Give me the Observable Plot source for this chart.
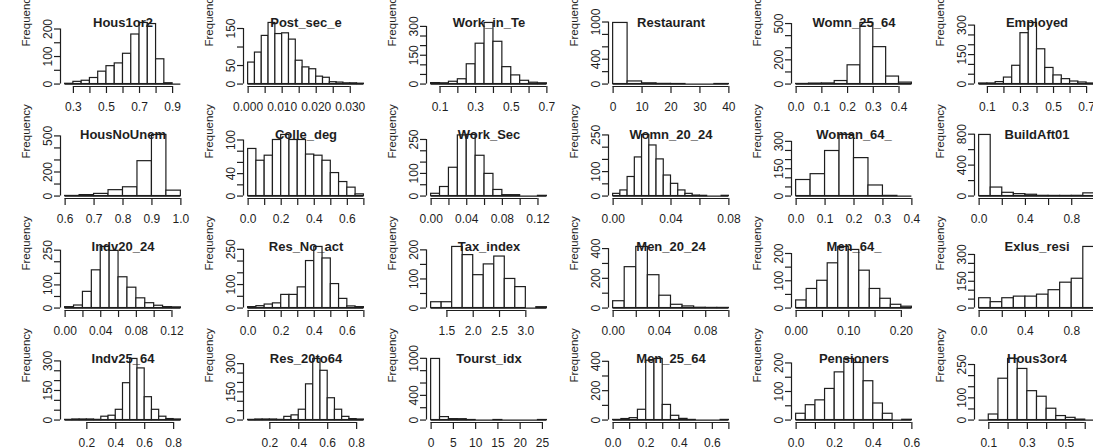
<!DOCTYPE html>
<html><head><meta charset="utf-8">
<script src="https://cdn.jsdelivr.net/npm/d3@7"></script>
<script src="https://cdn.jsdelivr.net/npm/@observablehq/plot@0.6"></script>
<style>
body{margin:0;background:#fff;}
#grid{position:relative;width:1093px;height:448px;overflow:hidden;background:#fff;}
.panel{position:absolute;}
.panel svg{overflow:visible;}
</style></head><body><div id="grid"></div>
<script>
const titles = ["Hous1or2","Post_sec_e","Work_in_Te","Restaurant","Womn_25_64","Employed",
  "HousNoUnem","Colle_deg","Work_Sec","Womn_20_24","Woman_64_","BuildAft01",
  "Indv20_24","Res_No_act","Tax_index","Men_20_24","Men_64_","Exlus_resi",
  "Indv25_64","Res_20to64","Tourst_idx","Men_25_64","Pensioners","Hous3or4"];

const binStarts = [0.25, 0, 0.05, 0, 0, 0.05,
  0.6, 0, 0, 0, 0, 0,
  0, 0, 1.2, 0, 0, 0,
  0.05, 0.05, 0, 0, 0, 0.05];

const binWidths = [0.05, 0.002, 0.05, 5, 0.05, 0.05,
  0.05, 0.05, 0.01, 0.005, 0.05, 0.1,
  0.01, 0.05, 0.2, 0.01, 0.02, 0.1,
  0.05, 0.05, 2, 0.05, 0.05, 0.05];

const counts = [
  [1, 8, 12, 22, 45, 65, 75, 110, 180, 222, 218, 90, 3, 0],
  [58, 85, 130, 165, 135, 137, 120, 63, 45, 40, 20, 17, 5, 4, 2, 2, 1],
  [5, 4, 12, 25, 103, 210, 318, 220, 88, 45, 17, 7, 4],
  [985, 42, 12, 3, 1, 0, 0, 1],
  [1, 4, 5, 25, 155, 505, 305, 62, 12],
  [3, 3, 10, 33, 93, 259, 311, 177, 82, 44, 25, 13, 8, 3],
  [1, 8, 18, 49, 73, 290, 508, 45],
  [84, 63, 72, 100, 109, 100, 100, 74, 72, 63, 41, 25, 15, 3],
  [10, 40, 125, 268, 270, 178, 98, 27, 4, 4, 0, 0, 1],
  [9, 23, 78, 158, 250, 207, 150, 84, 50, 23, 9, 2, 1, 0, 0, 1],
  [88, 120, 247, 335, 208, 58, 1, 0],
  [790, 110, 42, 25, 17, 3, 2, 2, 3, 35],
  [4, 11, 70, 163, 264, 247, 133, 88, 42, 21, 10, 4, 3],
  [4, 8, 15, 20, 56, 56, 88, 200, 260, 211, 102, 39, 7, 4],
  [20, 20, 210, 182, 113, 150, 177, 100, 72, 0, 3],
  [46, 275, 411, 221, 83, 22, 11, 2, 1, 1],
  [28, 70, 100, 164, 224, 213, 137, 70, 34, 12, 5],
  [55, 33, 55, 64, 64, 75, 100, 142, 164, 342],
  [1, 3, 3, 3, 1, 17, 22, 52, 187, 310, 262, 116, 52, 17, 5, 3],
  [1, 3, 3, 3, 1, 17, 25, 55, 190, 325, 262, 116, 55, 17, 5, 3],
  [990, 48, 15, 14, 1, 0, 0, 1, 0, 0, 0, 0, 1],
  [1, 7, 13, 70, 404, 416, 103, 29, 8, 1, 0, 0, 0, 1],
  [22, 52, 69, 109, 167, 214, 200, 136, 58, 22, 0, 1],
  [0, 25, 186, 275, 230, 130, 105, 51, 18, 10, 2, 0]
];

const xTicks = [
  [0.3, 0.4, 0.5, 0.6, 0.7, 0.8, 0.9],
  [0, 0.005, 0.01, 0.015, 0.02, 0.025, 0.03],
  [0.1, 0.2, 0.3, 0.4, 0.5, 0.6, 0.7],
  [0, 10, 20, 30, 40],
  [0, 0.1, 0.2, 0.3, 0.4],
  [0.1, 0.2, 0.3, 0.4, 0.5, 0.6, 0.7],
  [0.6, 0.7, 0.8, 0.9, 1.0],
  [0, 0.1, 0.2, 0.3, 0.4, 0.5, 0.6, 0.7],
  [0, 0.02, 0.04, 0.06, 0.08, 0.1, 0.12],
  [0, 0.02, 0.04, 0.06, 0.08],
  [0, 0.1, 0.2, 0.3, 0.4],
  [0, 0.2, 0.4, 0.6, 0.8, 1.0],
  [0, 0.02, 0.04, 0.06, 0.08, 0.1, 0.12],
  [0, 0.1, 0.2, 0.3, 0.4, 0.5, 0.6, 0.7],
  [1.5, 2.0, 2.5, 3.0],
  [0, 0.02, 0.04, 0.06, 0.08, 0.1],
  [0, 0.05, 0.1, 0.15, 0.2],
  [0, 0.2, 0.4, 0.6, 0.8, 1.0],
  [0.2, 0.4, 0.6, 0.8],
  [0.2, 0.4, 0.6, 0.8],
  [0, 5, 10, 15, 20, 25],
  [0, 0.1, 0.2, 0.3, 0.4, 0.5, 0.6, 0.7],
  [0, 0.1, 0.2, 0.3, 0.4, 0.5, 0.6],
  [0.1, 0.2, 0.3, 0.4, 0.5, 0.6]
];

const xLabels = [
  ["0.3", "0.5", "0.7", "0.9"],
  ["0.000", "0.010", "0.020", "0.030"],
  ["0.1", "0.3", "0.5", "0.7"],
  ["0", "10", "20", "30", "40"],
  ["0.0", "0.1", "0.2", "0.3", "0.4"],
  ["0.1", "0.3", "0.5", "0.7"],
  ["0.6", "0.7", "0.8", "0.9", "1.0"],
  ["0.0", "0.2", "0.4", "0.6"],
  ["0.00", "0.04", "0.08", "0.12"],
  ["0.00", "0.04", "0.08"],
  ["0.0", "0.1", "0.2", "0.3", "0.4"],
  ["0.0", "0.4", "0.8"],
  ["0.00", "0.04", "0.08", "0.12"],
  ["0.0", "0.2", "0.4", "0.6"],
  ["1.5", "2.0", "2.5", "3.0"],
  ["0.00", "0.04", "0.08"],
  ["0.00", "0.10", "0.20"],
  ["0.0", "0.4", "0.8"],
  ["0.2", "0.4", "0.6", "0.8"],
  ["0.2", "0.4", "0.6", "0.8"],
  ["0", "5", "10", "15", "20", "25"],
  ["0.0", "0.2", "0.4", "0.6"],
  ["0.0", "0.2", "0.4", "0.6"],
  ["0.1", "0.3", "0.5"]
];

const yTicks = [
  [0, 50, 100, 150, 200],
  [0, 50, 100, 150],
  [0, 50, 100, 150, 200, 250, 300],
  [0, 200, 400, 600, 800, 1000],
  [0, 100, 200, 300, 400, 500],
  [0, 50, 100, 150, 200, 250, 300],
  [0, 100, 200, 300, 400, 500],
  [0, 20, 40, 60, 80, 100],
  [0, 50, 100, 150, 200, 250],
  [0, 50, 100, 150, 200, 250],
  [0, 50, 100, 150, 200, 250, 300],
  [0, 200, 400, 600, 800],
  [0, 50, 100, 150, 200, 250],
  [0, 50, 100, 150, 200, 250],
  [0, 50, 100, 150, 200],
  [0, 100, 200, 300, 400],
  [0, 50, 100, 150, 200],
  [0, 50, 100, 150, 200, 250, 300],
  [0, 50, 100, 150, 200, 250, 300],
  [0, 50, 100, 150, 200, 250, 300],
  [0, 200, 400, 600, 800, 1000],
  [0, 100, 200, 300, 400],
  [0, 50, 100, 150, 200],
  [0, 50, 100, 150, 200, 250]
];

const yLabels = [
  ["0", "100", "200"],
  ["0", "50", "150"],
  ["0", "150", "300"],
  ["0", "400", "1000"],
  ["0", "200", "500"],
  ["0", "150", "300"],
  ["0", "200", "500"],
  ["0", "40", "100"],
  ["0", "100", "250"],
  ["0", "100", "250"],
  ["0", "150", "300"],
  ["0", "400", "800"],
  ["0", "100", "250"],
  ["0", "100", "250"],
  ["0", "100", "200"],
  ["0", "200", "400"],
  ["0", "100", "200"],
  ["0", "150", "300"],
  ["0", "150", "300"],
  ["0", "150", "300"],
  ["0", "400", "1000"],
  ["0", "200", "400"],
  ["0", "100", "200"],
  ["0", "100", "250"]
];

const ink = "#1e1e1e";
const font = "'Liberation Sans', Arial, Helvetica, sans-serif";
const shift = 14;                       // panel SVG starts this far left of its slot
const W = 190 + shift, H = 112, ML = 60 + shift, MR = 5, MT = 20, MB = 26;
const colStep = 182.75, rowStep = 112, nCols = 6;
const lw = 1.2;

function labelFormatter(labels) {
  const vals = labels.map(s => [+s, s]);
  return d => {
    const m = vals.find(([v]) => Math.abs(v - d) < 1e-9);
    return m ? m[1] : "";
  };
}

const grid = document.getElementById("grid");

titles.forEach((title, i) => {
  const b0 = binStarts[i], bw = binWidths[i], c = counts[i];
  const bins = c.map((n, j) => ({x1: b0 + j * bw, x2: b0 + (j + 1) * bw, n}));
  const xmin = b0, xmax = b0 + c.length * bw, xr = xmax - xmin;
  const ymax = d3.max(c);
  const xd = [xmin - 0.04 * xr, xmax + 0.04 * xr];
  const yd = [-0.04 * ymax, 1.04 * ymax];
  const xt = xTicks[i], yt = yTicks[i];

  const chart = Plot.plot({
    width: W, height: H,
    marginLeft: ML, marginRight: MR, marginTop: MT, marginBottom: MB,
    x: {type: "linear", domain: xd},
    y: {type: "linear", domain: yd},
    style: {fontFamily: font, color: ink, background: "transparent", overflow: "visible"},
    marks: [
      Plot.rect(bins.filter(d => d.n > 0), {x1: "x1", x2: "x2", y1: 0, y2: "n", fill: "white", stroke: ink, strokeWidth: lw}),
      Plot.ruleY([0], {x1: xmin, x2: xmax, stroke: ink, strokeWidth: lw}),
      Plot.ruleY([yd[0]], {x1: xt[0], x2: xt[xt.length - 1], stroke: ink, strokeWidth: lw}),
      Plot.ruleX([xd[0]], {y1: yt[0], y2: yt[yt.length - 1], stroke: ink, strokeWidth: lw}),
      Plot.axisX({ticks: xt, tickSize: 7, tickPadding: 9, label: null, tickFormat: labelFormatter(xLabels[i]), fontSize: 12, strokeWidth: lw}),
      Plot.axisY({ticks: yt, tickSize: 6, tickRotate: -90, label: null, tickFormat: labelFormatter(yLabels[i]), fontSize: 12, strokeWidth: lw}),
      Plot.text([title], {frameAnchor: "top", dy: -3, fontSize: 13, fontWeight: "bold", fill: ink}),
      Plot.text(["Frequency"], {frameAnchor: "left", dx: -34, dy: -7, rotate: -90, fontSize: 11.5, fill: ink})
    ]
  });

  const div = document.createElement("div");
  div.className = "panel";
  const col = i % nCols, row = Math.floor(i / nCols);
  div.style.left = (Math.round(col * colStep) - shift) + "px";
  div.style.top = Math.round(row * rowStep) + "px";
  div.style.width = W + "px";
  div.style.height = H + "px";
  div.appendChild(chart);
  grid.appendChild(div);
});
</script>
</body></html>
